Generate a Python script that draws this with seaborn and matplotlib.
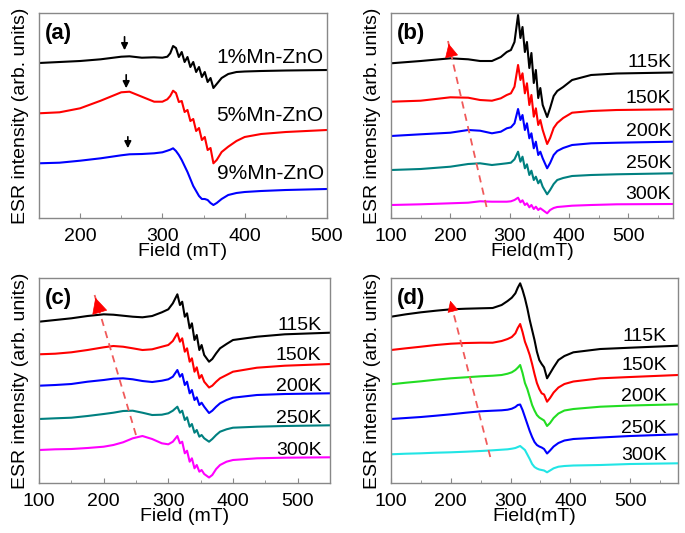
import seaborn as sns
import matplotlib.pyplot as plt
import pandas as pd
from matplotlib.ticker import MultipleLocator

# ---- data (heights, arb. units) ----
field_a = [150, 175, 200, 225, 250, 260, 275, 290, 300, 306, 309.5, 313, 316.5, 320, 323.5, 327, 330.5,
           334, 337.5, 341, 344.5, 348, 351.5, 355, 358.5, 362, 366, 372, 380, 390, 400, 420, 450, 500]
esr_a1 = [155, 156, 157, 158.7, 161.3, 161.7, 160.3, 160.7, 160.3, 161.3, 164.7, 172, 170, 161, 166, 156, 161,
          151, 156, 146, 151, 141, 146, 136, 140, 130, 134, 140, 144, 146, 146.5, 147, 147.5, 148]
esr_a5 = [104.7, 105.7, 109.7, 117.3, 125.7, 126.3, 121.3, 116.3, 116.3, 118.7, 122, 127.3, 125, 116, 117, 106, 108,
          97, 99, 87, 90, 78, 81, 68, 70, 54.7, 58, 66, 71.3, 77, 81, 84, 86, 88]
esr_a9 = [54.7, 55.3, 57.3, 59.7, 62.7, 63.7, 64, 64.7, 65.7, 67.3, 68.3, 69.7, 67, 63, 58, 52, 46,
          39, 32, 27, 22, 19, 19, 18, 15, 13, 15, 19, 23, 25, 26, 27, 28, 29]
labels_a = ["1%Mn-ZnO", "5%Mn-ZnO", "9%Mn-ZnO"]

field_b = [100, 150, 200, 230, 250, 270, 285, 295, 302, 308, 314, 318, 321.5, 325.5, 329, 333, 336.5,
           340.5, 344, 348, 351.5, 355.5, 363, 368, 374, 380, 390, 405, 437, 480, 575]
esr_b115 = [154.7, 157, 159.7, 158.7, 157, 157, 161, 166, 168, 176, 203, 180, 191, 166, 176, 150, 165,
            135, 148, 120, 130, 113, 101, 110, 122, 127, 131, 138, 143, 144.5, 145.5]
esr_b150 = [116.3, 117.3, 120.7, 120.3, 118, 117.3, 119.7, 123, 124.7, 131.3, 153, 138, 144.7, 124.7, 134.7, 113, 123,
            101.3, 109.7, 93, 98, 88, 74, 80, 90, 95, 100, 105.3, 107, 108, 108.7]
esr_b200 = [82, 83.7, 85.3, 88, 87.3, 84.7, 86.3, 89.7, 90.7, 94.7, 109, 98, 103, 88, 94.7, 79.7, 84.7,
            69.7, 76.3, 63, 66.3, 59.7, 49.7, 55, 63, 67, 70, 73, 74.7, 75.3, 76.3]
esr_b250 = [48, 49, 51.3, 54, 54.7, 53, 54, 54.7, 55.3, 58.7, 66.3, 56.3, 61.3, 49.7, 53.7, 43, 47.3,
            38, 41.3, 34.7, 38, 31.3, 23.7, 28, 34, 38, 40, 42, 43, 43.7, 44.7]
esr_b300 = [13, 13.7, 14.7, 15.3, 16.7, 16.3, 16.3, 16.3, 16.7, 18, 20.3, 15.7, 17.7, 13, 14.7, 10.7, 13,
            9, 11.3, 8, 9.7, 8, 4.7, 8, 10, 11, 11.5, 12.3, 13, 13.7, 14]

field_c = [100, 125, 150, 175, 200, 215, 230, 245, 260, 275, 290, 300, 307, 314, 318, 321.5, 325.5,
           329, 333, 336.5, 340.5, 344, 348, 351.5, 355.5, 363, 368, 374, 380, 390, 400, 437, 480, 550]
esr_c115 = [161.3, 163, 164.7, 167, 168.7, 168.3, 167.3, 166.3, 165.7, 167, 170.7, 173.7, 179.7, 188.7, 178, 181.3, 166.3,
            169.7, 154.7, 159.7, 143, 148, 133, 138, 128, 121.3, 124, 129.7, 134.7, 139, 143, 146.3, 148.7, 150.3]
esr_c150 = [128.7, 129.3, 130.7, 133, 135.7, 137, 136.3, 134.7, 133, 133.7, 136.3, 138, 142, 149.7, 141.3, 144.7, 131.3,
            134.7, 121.3, 124.7, 111.3, 115.7, 104.7, 108, 101.3, 95.5, 97.3, 101.3, 104.7, 108, 111.3, 115.3, 117.3, 119]
esr_c200 = [97.3, 98, 99, 101.3, 103, 104.3, 104.7, 103.7, 102, 101, 102.3, 103.7, 106.3, 113, 106.3, 109, 98,
            101.3, 89.7, 93, 83, 85.7, 78, 80.3, 76.3, 70, 72.3, 76.3, 79.7, 83, 85.3, 88, 89, 89.7]
esr_c250 = [64, 64.7, 65.3, 67, 69, 70.3, 72, 72.3, 70.3, 68, 68.3, 69.7, 72.3, 76.3, 70.3, 72.3, 63,
            65.7, 56.3, 59, 50.3, 53, 46.3, 48, 44.7, 41.3, 44, 48, 51.3, 53.7, 55.3, 56.3, 57, 57.7]
esr_c300 = [33, 33.7, 34, 35, 36.3, 38, 40.7, 44.7, 47, 44, 39.7, 38.7, 41.3, 47, 39.7, 41.3, 29.7,
            32.3, 21.3, 24.7, 14.7, 18, 11.3, 13, 9, 5.5, 8, 14, 18, 21.3, 23, 24.7, 25.3, 25.7]

field_d = [100, 125, 150, 175, 200, 225, 250, 270, 285, 295, 302, 308, 312, 316, 320, 324, 328,
           332, 336, 340, 344, 348, 352, 356, 361, 366, 372, 380, 390, 405, 450, 500, 580]
esr_d115 = [166.3, 168.7, 170.7, 172.3, 173.7, 174.3, 174.7, 175, 178, 182, 185.3, 189.7, 195.3, 199.7, 193, 184.7, 174.7,
            163, 153, 143, 131.3, 123, 119, 115.7, 104.7, 109.7, 115.7, 123, 127, 130.7, 134, 135.3, 137.3]
esr_d150 = [133, 134.7, 136.3, 138, 139.3, 140, 140.3, 140.3, 142, 144, 146, 149.7, 155, 159, 151, 141.3, 135,
            128, 119, 109, 100, 94, 89.7, 88.5, 81.3, 85, 90.5, 95.5, 99, 101.5, 104.7, 106, 108]
esr_d200 = [98.7, 100.3, 101.7, 103.3, 104.7, 105.7, 106.7, 107.3, 108, 109.3, 110.7, 113, 115.3, 118, 110, 100, 94,
            86, 78, 72.5, 68, 65.5, 64, 62.5, 57, 60, 65, 69.5, 72.5, 74, 76.3, 77.5, 78.7]
esr_d250 = [64, 65, 66, 67.3, 68.7, 70.3, 71.7, 72.3, 72.7, 73.3, 74.3, 76, 78, 78.5, 73, 66, 59,
            52, 46, 41, 38, 36.5, 35.5, 34, 29.5, 32.5, 36.5, 40, 42.5, 44, 45.5, 47, 48.7]
esr_d300 = [28.7, 29.3, 29.7, 30.3, 30.7, 31.3, 32, 32.7, 33.3, 33.7, 34.3, 35, 36, 37, 35, 33, 28.5,
            24, 19, 16, 14.5, 13.5, 13, 12.5, 10.7, 12.5, 14.7, 16.3, 17, 17.5, 18, 19, 19.7]

temps = ["115K", "150K", "200K", "250K", "300K"]

# ---- style ----
sns.set_style("white")
plt.rcParams["font.family"] = ["Liberation Sans", "DejaVu Sans"]
plt.rcParams["text.color"] = "black"
plt.rcParams["axes.labelcolor"] = "black"
plt.rcParams["xtick.labelcolor"] = "black"

fig = plt.figure(figsize=(6.85, 5.33), dpi=100)
ax_a = fig.add_axes([0.0569, 0.591, 0.4204, 0.3846])
ax_b = fig.add_axes([0.5708, 0.591, 0.4117, 0.3846])
ax_c = fig.add_axes([0.0569, 0.0938, 0.4248, 0.3846])
ax_d = fig.add_axes([0.5708, 0.0938, 0.4190, 0.3846])


def draw_panel(ax, field, series, names, colors, xlim, xlabel, tag, label_x, label_y, fs=14):
    df = pd.concat([pd.DataFrame({"field": field, "esr": s, "name": n})
                    for s, n in zip(series, names)])
    sns.lineplot(data=df, x="field", y="esr", hue="name", palette=colors, ax=ax,
                 legend=False, estimator=None, sort=False, linewidth=1.5)
    for n, y in zip(names, label_y):
        ax.text(label_x, y, n, ha="right", va="center", fontsize=fs, color="black")
    ax.text(0.02, 0.9, tag, transform=ax.transAxes, fontsize=16, fontweight="bold",
            va="center", color="black")
    ax.set_xlim(*xlim)
    ax.set_ylim(0, 205)
    ax.set_yticks([])
    ax.xaxis.set_major_locator(MultipleLocator(100))
    ax.xaxis.set_minor_locator(MultipleLocator(50))
    ax.tick_params(axis="x", which="both", direction="in", color="#888888", labelcolor="black",
                   labelsize=14, pad=7, bottom=True)
    ax.tick_params(axis="x", which="major", length=3.5)
    ax.tick_params(axis="x", which="minor", length=2)
    for sp in ax.spines.values():
        sp.set_color("#888888")
        sp.set_linewidth(1)
    ax.set_xlabel(xlabel, fontsize=14, labelpad=-1, color="black")
    ax.set_ylabel("ESR intensity (arb. units)", fontsize=14, labelpad=7, color="black")


def red_arrow(ax, tail, tip, head):
    ax.plot([tail[0], tip[0]], [tail[1], tip[1]], color="#f05a5a", lw=1.3, ls=(0, (4, 3)))
    back = (tip[0] + (tail[0] - tip[0]) * 0.1, tip[1] + (tail[1] - tip[1]) * 0.1)
    ax.annotate("", xy=tip, xytext=back,
                arrowprops=dict(arrowstyle="-|>", color="red", lw=0.5, mutation_scale=head))


# (a)
draw_panel(ax_a, field_a, [esr_a1, esr_a5, esr_a9], labels_a, ["black", "red", "blue"],
           (150, 500), "Field (mT)", "(a)", 496, [161, 103, 44], fs=15)
for x0, y0, y1 in [(254, 184, 165), (256, 146, 127), (258, 84, 67)]:
    ax_a.annotate("", xy=(x0, y1), xytext=(x0, y0),
                  arrowprops=dict(arrowstyle="-|>", color="black", lw=1.2, mutation_scale=10))

# (b)
draw_panel(ax_b, field_b, [esr_b115, esr_b150, esr_b200, esr_b250, esr_b300], temps,
           ["black", "red", "blue", "#008080", "#ff00ff"],
           (100, 575), "Field(mT)", "(b)", 572, [156, 119.7, 86.3, 54.7, 23])
red_arrow(ax_b, (261, 11), (196, 177), 22)

# (c)
draw_panel(ax_c, field_c, [esr_c115, esr_c150, esr_c200, esr_c250, esr_c300], temps,
           ["black", "red", "blue", "#008080", "#ff00ff"],
           (100, 550), "Field (mT)", "(c)", 537, [158, 127.3, 96.3, 64.7, 33])
red_arrow(ax_c, (250, 48), (186, 188), 26)

# (d)
draw_panel(ax_d, field_d, [esr_d115, esr_d150, esr_d200, esr_d250, esr_d300], temps,
           ["black", "red", "#22dd22", "blue", "#22e5e5"],
           (100, 580), "Field(mT)", "(d)", 561, [146.3, 118, 86.3, 54.7, 27.3])
red_arrow(ax_d, (266, 26), (198, 185), 18)

fig.savefig("out.png", dpi=100)
